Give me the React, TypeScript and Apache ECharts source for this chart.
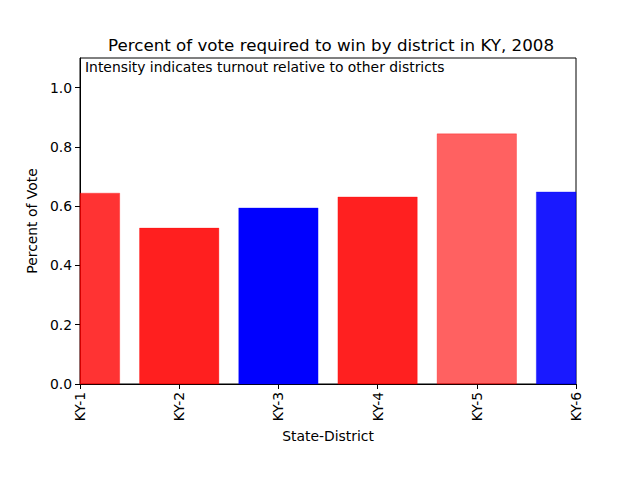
import React, { useEffect, useRef } from "react";
import * as echarts from "echarts";

const categories = ["KY-1", "KY-2", "KY-3", "KY-4", "KY-5", "KY-6"];
const values = [0.644, 0.526, 0.594, 0.631, 0.844, 0.648];
const barColors = [
  "rgba(255,0,0,0.80)",
  "rgba(255,0,0,0.88)",
  "rgba(0,0,255,1.0)",
  "rgba(255,0,0,0.875)",
  "rgba(255,0,0,0.62)",
  "rgba(0,0,255,0.90)",
];
const edgeColors = [
  "rgba(255,0,0,0.3)",
  "rgba(255,0,0,0.3)",
  "rgba(0,0,255,0.3)",
  "rgba(255,0,0,0.3)",
  "rgba(255,0,0,0.3)",
  "rgba(0,0,255,0.3)",
];
const BAR_FRACTION = 0.8;

const FONT = "DejaVu Sans";

export default function App() {
  const ref = useRef<HTMLDivElement>(null);
  useEffect(() => {
    if (!ref.current) return;
    const chart = echarts.init(ref.current, null, { renderer: "svg" });
    chart.setOption({
      animation: false,
      backgroundColor: "#ffffff",
      textStyle: { fontFamily: FONT },
      title: {
        text: "Percent of vote required to win by district in KY, 2008",
        left: 326,
        top: 31,
        textAlign: "center",
        textStyle: { fontFamily: FONT, fontSize: 16.7, fontWeight: "normal", color: "#000" },
      },
      grid: {
        left: 80,
        right: 64,
        top: 58,
        bottom: 96,
        show: true,
        borderColor: "#000",
        borderWidth: 1,
        backgroundColor: "transparent",
      },
      xAxis: {
        type: "value",
        min: 0,
        max: 5,
        interval: 1,
        name: "State-District",
        nameLocation: "middle",
        nameGap: 45,
        nameTextStyle: { fontFamily: FONT, fontSize: 13.9, color: "#000" },
        axisLine: { show: true, lineStyle: { color: "#000", width: 1 } },
        axisTick: { show: true, length: 5, lineStyle: { color: "#000" } },
        splitLine: { show: false },
        axisLabel: {
          rotate: 90,
          margin: 8,
          fontFamily: FONT,
          fontSize: 13.9,
          color: "#000",
          formatter: (v: number) => categories[Math.round(v)] ?? "",
        },
      },
      yAxis: {
        type: "value",
        min: 0,
        max: 1.1,
        interval: 0.2,
        name: "Percent of Vote",
        nameLocation: "middle",
        nameGap: 38,
        nameTextStyle: { fontFamily: FONT, fontSize: 13.9, color: "#000" },
        axisLine: { show: true, lineStyle: { color: "#000", width: 1 } },
        axisTick: { show: true, length: 5, lineStyle: { color: "#000" } },
        splitLine: { show: false },
        axisLabel: {
          margin: 8,
          fontFamily: FONT,
          fontSize: 13.9,
          color: "#000",
          showMaxLabel: false,
          formatter: (v: number) => v.toFixed(1),
        },
      },
      graphic: [
        {
          type: "text",
          left: 85,
          top: 60,
          z: 10,
          style: {
            text: "Intensity indicates turnout relative to other districts",
            fontFamily: FONT,
            fontSize: 13.9,
            fill: "#000",
          },
        },
      ],
      series: [
        {
          type: "custom",
          data: values.map((v, i) => [i, v]),
          renderItem: (params: any, api: any) => {
            const x = api.value(0);
            const y = api.value(1);
            const left = api.coord([x - BAR_FRACTION / 2, y]);
            const right = api.coord([x + BAR_FRACTION / 2, 0]);
            const rect = echarts.graphic.clipRectByRect(
              { x: left[0], y: left[1], width: right[0] - left[0], height: right[1] - left[1] },
              {
                x: params.coordSys.x,
                y: params.coordSys.y,
                width: params.coordSys.width,
                height: params.coordSys.height,
              }
            );
            if (!rect) return null;
            const idx = params.dataIndex;
            return {
              type: "rect",
              shape: rect,
              style: { fill: barColors[idx], stroke: edgeColors[idx], lineWidth: 1 },
            };
          },
        },
      ],
    });
    return () => chart.dispose();
  }, []);
  return (
    <div
      ref={ref}
      style={{ position: "fixed", left: 0, top: 0, width: 640, height: 480 }}
    />
  );
}
